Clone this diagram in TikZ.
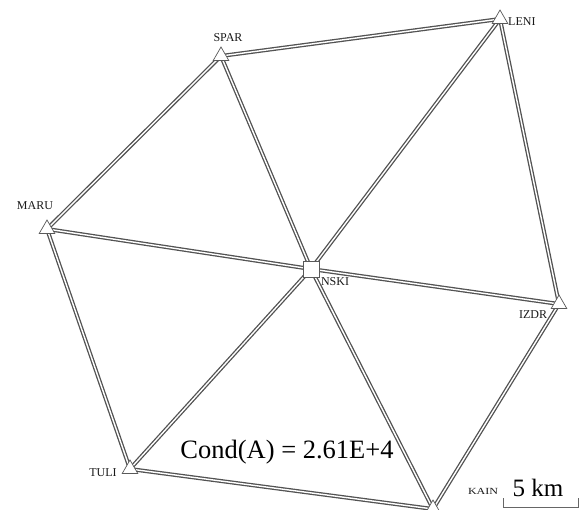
\documentclass[tikz,border=0pt]{standalone}
\usepackage{fontspec}
\setmainfont{Liberation Serif}
\usetikzlibrary{shapes.geometric, backgrounds, positioning}

\tikzset{
  station/.style={regular polygon, regular polygon sides=3, draw=black!65, fill=white,
    inner sep=0pt, minimum size=18pt, line width=0.7pt},
  centre/.style={rectangle, draw=black!65, fill=white, minimum size=16pt,
    inner sep=0pt, line width=0.7pt},
  obs/.style={draw=black!68, line width=1.3pt, double=white, double distance=1.4pt},
  stname/.style={font=\fontsize{12}{12}\selectfont, text=black!90, inner sep=0pt},
}

\begin{document}
\begin{tikzpicture}[x=1pt, y=-1pt]
  \useasboundingbox (0,0) rectangle (580,509);
  \clip (0,0) rectangle (580,509);

  % stations
  \node[station] (SPAR) at (221,56) {};
  \node[station] (LENI) at (500,19) {};
  \node[station] (MARU) at (47,229) {};
  \node[centre]  (NSKI) at (311,269) {};
  \node[station] (IZDR) at (559,304) {};
  \node[station] (TULI) at (130,469) {};
  \node[station] (KAIN) at (433,509) {};

  % observations
  \begin{scope}[on background layer]
    \foreach \a/\b in {SPAR/LENI, SPAR/MARU, SPAR/NSKI, LENI/NSKI, LENI/IZDR,
                       MARU/NSKI, MARU/TULI, NSKI/IZDR, NSKI/TULI, NSKI/KAIN,
                       TULI/KAIN, IZDR/KAIN}
      \draw[obs] (\a.center) -- (\b.center);
  \end{scope}

  % station names
  \node[stname] (SPAR-l) at (228,38) {SPAR};
  \node[stname, anchor=west] (LENI-l) at (508,22) {LENI};
  \node[stname] (MARU-l) at (35,206) {MARU};
  \node[stname] (NSKI-l) at (335,282) {NSKI};
  \node[stname] (IZDR-l) at (533,315) {IZDR};
  \node[stname] (TULI-l) at (103,473) {TULI};
  \node[stname] (KAIN-l) at (483,491) {\scalebox{1}[0.78]{KAIN}};

  % condition number
  \node[font=\fontsize{26.5}{30}\selectfont, inner sep=0pt] (cond) at (287,452) {Cond(A) = 2.61E+4};

  % scale bar
  \coordinate (bar-a) at (503,498);
  \coordinate (bar-b) at (578.5,498);
  \draw[black!60, line width=0.8pt] (bar-a) -- ++(0,9) -| (bar-b);
  \node[font=\fontsize{25}{28}\selectfont, inner sep=0pt] (bar-l) at (538,488) {5 km};
\end{tikzpicture}
\end{document}
